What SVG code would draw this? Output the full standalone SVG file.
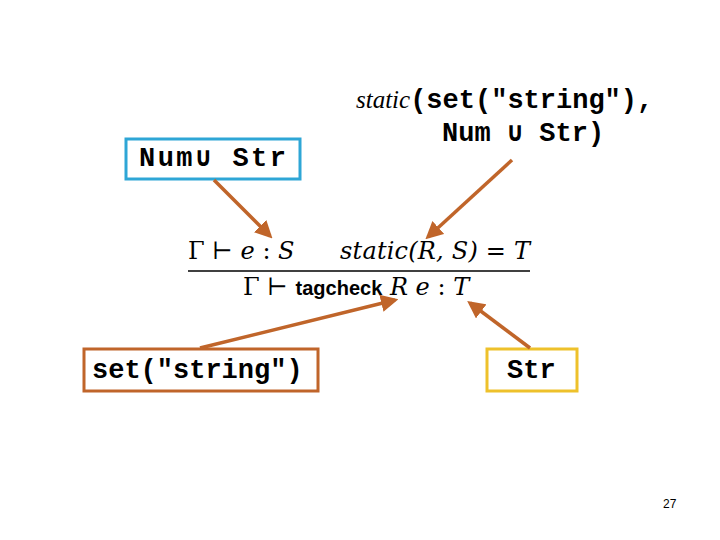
<svg xmlns="http://www.w3.org/2000/svg" width="720" height="540" viewBox="0 0 720 540">
<style>
.m{font-family:"Liberation Mono",monospace;font-weight:bold;font-size:27px;fill:#000}
.t{font-family:"Liberation Serif",serif;font-style:italic;font-size:25px;fill:#000}
.g{font-family:"DejaVu Serif","Liberation Serif",serif;font-size:24px;fill:#000}
.a{stroke:#c0652a;stroke-width:3.5;fill:none;marker-end:url(#ah)}
</style>
<defs><marker id="ah" viewBox="0 0 10 10" refX="8" refY="5" markerWidth="5" markerHeight="5" orient="auto"><path d="M0,0 L10,5 L0,10 z" fill="#c0652a"/></marker></defs>
<rect width="720" height="540" fill="#fff"/>
<g id="n1"><rect x="126" y="139" width="174" height="40" fill="#fff" stroke="#2ea6d6" stroke-width="3"/><text class="m" x="139" y="166" textLength="147">Num∪ Str</text></g>
<g id="n2"><text x="356" y="108"><tspan class="t">static</tspan><tspan class="m">(set("string"),</tspan></text><text class="m" x="442" y="141">Num ∪ Str)</text></g>
<g id="n3"><rect x="84" y="349" width="234" height="42" fill="#fff" stroke="#c0652a" stroke-width="3"/><text class="m" x="92" y="378">set("string")</text></g>
<g id="n4"><rect x="487" y="349" width="90" height="42" fill="#fff" stroke="#eec12b" stroke-width="3"/><text class="m" x="507" y="378">Str</text></g>
<g id="rule">
<text class="g" x="188" y="259">Γ ⊢ <tspan font-style="italic">e</tspan> : <tspan font-style="italic">S</tspan></text>
<text class="g" x="340" y="259" font-style="italic" textLength="190">static(R, S) <tspan font-style="normal">=</tspan> T</text>
<line x1="188" y1="271" x2="530" y2="271" stroke="#000" stroke-width="1.5"/>
<text class="g" x="243" y="295">Γ ⊢ <tspan font-family="Liberation Sans,sans-serif" font-weight="bold" font-size="20">tagcheck</tspan>  <tspan font-style="italic">R  e</tspan> : <tspan font-style="italic">T</tspan></text>
</g>
<g id="connectors">
<line class="a" x1="214" y1="180" x2="270" y2="236"/>
<line class="a" x1="512" y1="160" x2="428" y2="237"/>
<line class="a" x1="200" y1="348" x2="395" y2="300"/>
<line class="a" x1="530" y1="348" x2="470" y2="303"/>
</g>
<text x="663" y="508" font-family="Liberation Sans,sans-serif" font-size="12">27</text>
</svg>
